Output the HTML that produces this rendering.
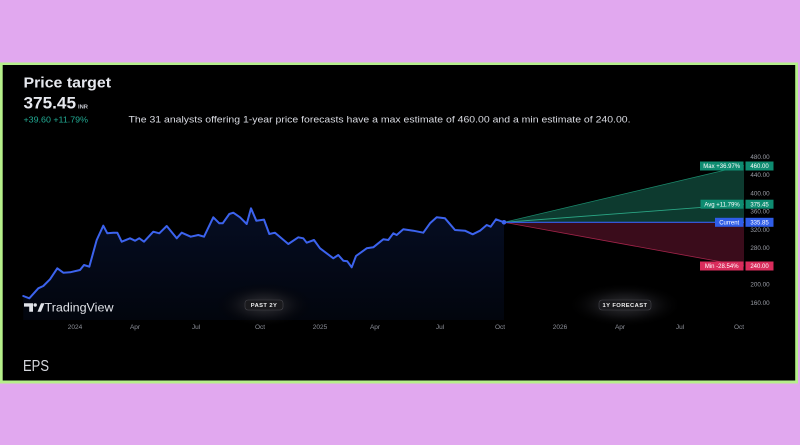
<!DOCTYPE html>
<html><head><meta charset="utf-8"><style>
html,body{margin:0;padding:0;background:#e1a8ef;}
svg{display:block;}
text{font-family:"Liberation Sans",sans-serif;}
</style></head><body>
<svg width="800" height="445" viewBox="0 0 800 445" xmlns="http://www.w3.org/2000/svg">
<defs>
<linearGradient id="area" x1="0" y1="205" x2="0" y2="322" gradientUnits="userSpaceOnUse">
<stop offset="0" stop-color="#2962ff" stop-opacity="0.14"/>
<stop offset="1" stop-color="#2962ff" stop-opacity="0.05"/>
</linearGradient>
<radialGradient id="glow" cx="0.5" cy="0.5" r="0.5">
<stop offset="0" stop-color="#3a3a3e" stop-opacity="0.9"/>
<stop offset="0.5" stop-color="#1e1e22" stop-opacity="0.6"/>
<stop offset="1" stop-color="#000" stop-opacity="0"/>
</radialGradient>
</defs>
<rect x="0" y="0" width="800" height="445" fill="#e1a8ef"/>
<rect x="0" y="62.5" width="798" height="321" fill="#b6ef8b"/>
<rect x="2.7" y="65" width="792.5" height="315.5" fill="#000"/>

<!-- header -->
<text x="23.5" y="87.3" font-size="15" font-weight="bold" fill="#e6e8ee" textLength="87.5" lengthAdjust="spacingAndGlyphs">Price target</text>
<text x="23.5" y="108.3" font-size="16.5" font-weight="bold" fill="#e6e8ee" textLength="52.5" lengthAdjust="spacingAndGlyphs">375.45</text>
<text x="78" y="108.3" font-size="5" font-weight="bold" fill="#c8cad2" textLength="10" lengthAdjust="spacingAndGlyphs">INR</text>
<text x="23.5" y="122.7" font-size="8.4" fill="#22ab94" textLength="64.5" lengthAdjust="spacingAndGlyphs">+39.60 +11.79%</text>
<text x="128.5" y="122.7" font-size="9.4" fill="#dadce3" textLength="502" lengthAdjust="spacingAndGlyphs">The 31 analysts offering 1-year price forecasts have a max estimate of 460.00 and a min estimate of 240.00.</text>

<!-- past area -->
<polygon fill="url(#area)" points="23.3,296 29.3,298.3 38.3,288.3 43.3,286 50,279.3 57.3,268.3 63.3,272.7 70,272.3 80,270 84,265 89.3,266.7 96.7,240 103.3,225.7 107.3,233.3 113.3,232.7 117.3,232.7 121.7,241.7 130,238.3 135,240.7 139.3,238.3 144,241.7 153.3,231.7 159.3,233.3 166.7,226 176.7,238.3 181.7,232.7 190.7,236.7 198.3,235 204,236.7 213.3,217.3 219.3,223.3 222.7,223.3 229.3,214 233.3,212.7 240,217.3 246.7,224 251,208.3 256.3,220.7 264,219.6 269.3,234 275,232.7 288.3,244 298.3,237.3 303.3,238.3 306.7,242.7 314,240 320,248.3 333.3,258.3 338.3,255 343.3,260.7 347.3,261.3 351.7,267.3 356,256 366.7,248.3 373.3,247.3 383.3,239.3 388.3,240 393.3,233.3 396.7,235 403.3,229.3 413.3,230.7 423.3,232.7 430,223.3 436.7,217.3 445,218.3 455,230 465,230.7 472.7,234.3 480,230.7 486.7,225 490.7,226.7 496,219.3 504,222.3 504,320 23.3,320"/>

<!-- fan -->
<polygon points="504,222.3 744,165.6 744,222.3" fill="#0d3a2f"/>
<polygon points="504,222.3 744,222.3 744,266" fill="#3a0c1b"/>
<line x1="504" y1="222.3" x2="744" y2="165.6" stroke="#1a8a6c" stroke-width="0.8"/>
<line x1="504" y1="222.3" x2="744" y2="204.2" stroke="#2aa584" stroke-width="0.9"/>
<line x1="504" y1="222.3" x2="744" y2="266" stroke="#a3244a" stroke-width="0.8"/>
<line x1="504" y1="222.3" x2="744" y2="222.3" stroke="#3461f0" stroke-width="1.2"/>

<!-- line -->
<polyline fill="none" stroke="#3c63ee" stroke-width="2" stroke-linejoin="round" stroke-linecap="round" points="23.3,296 29.3,298.3 38.3,288.3 43.3,286 50,279.3 57.3,268.3 63.3,272.7 70,272.3 80,270 84,265 89.3,266.7 96.7,240 103.3,225.7 107.3,233.3 113.3,232.7 117.3,232.7 121.7,241.7 130,238.3 135,240.7 139.3,238.3 144,241.7 153.3,231.7 159.3,233.3 166.7,226 176.7,238.3 181.7,232.7 190.7,236.7 198.3,235 204,236.7 213.3,217.3 219.3,223.3 222.7,223.3 229.3,214 233.3,212.7 240,217.3 246.7,224 251,208.3 256.3,220.7 264,219.6 269.3,234 275,232.7 288.3,244 298.3,237.3 303.3,238.3 306.7,242.7 314,240 320,248.3 333.3,258.3 338.3,255 343.3,260.7 347.3,261.3 351.7,267.3 356,256 366.7,248.3 373.3,247.3 383.3,239.3 388.3,240 393.3,233.3 396.7,235 403.3,229.3 413.3,230.7 423.3,232.7 430,223.3 436.7,217.3 445,218.3 455,230 465,230.7 472.7,234.3 480,230.7 486.7,225 490.7,226.7 496,219.3 504,222.3"/>
<circle cx="504" cy="222.3" r="2.3" fill="#3c63ee"/>

<!-- y axis labels -->
<g font-size="6.3" fill="#9a9da6" text-anchor="middle">
<text x="760" y="158.8">480.00</text>
<text x="760" y="177">440.00</text>
<text x="760" y="195.3">400.00</text>
<text x="760" y="213.5">360.00</text>
<text x="760" y="231.8">320.00</text>
<text x="760" y="250">280.00</text>
<text x="760" y="286.5">200.00</text>
<text x="760" y="304.8">160.00</text>
</g>

<!-- labels -->
<g font-size="6" fill="#fff" text-anchor="middle">
<rect x="700" y="161.5" width="43.5" height="9" fill="#0e8c71"/>
<rect x="745.5" y="161.5" width="28" height="9" fill="#0e8c71"/>
<text x="721.7" y="168.2">Max +36.97%</text>
<text x="759.5" y="168.2">460.00</text>

<rect x="700.5" y="199.7" width="43" height="9" fill="#0e8c71"/>
<rect x="745.5" y="199.7" width="28" height="9" fill="#0e8c71"/>
<text x="722" y="206.4">Avg +11.79%</text>
<text x="759.5" y="206.4">375.45</text>

<rect x="715" y="217.8" width="28.5" height="9" fill="#2f5de8"/>
<rect x="745.5" y="217.8" width="28" height="9" fill="#2f5de8"/>
<text x="729.2" y="224.5">Current</text>
<text x="759.5" y="224.5">335.85</text>

<rect x="700" y="261.5" width="43.5" height="9" fill="#d92c5c"/>
<rect x="745.5" y="261.5" width="28" height="9" fill="#d92c5c"/>
<text x="721.7" y="268.2">Min -28.54%</text>
<text x="759.5" y="268.2">240.00</text>
</g>

<!-- badges -->
<ellipse cx="264" cy="305" rx="48" ry="22" fill="url(#glow)"/>
<ellipse cx="625" cy="305" rx="58" ry="22" fill="url(#glow)"/>
<rect x="245" y="300" width="38" height="10" rx="3" fill="#1a1a1d" stroke="#45454b" stroke-width="0.6"/>
<text x="264" y="307.2" font-size="5.8" font-weight="bold" fill="#eeeeee" text-anchor="middle" letter-spacing="0.4">PAST 2Y</text>
<rect x="599" y="300" width="52" height="10" rx="3" fill="#1a1a1d" stroke="#45454b" stroke-width="0.6"/>
<text x="625" y="307.2" font-size="5.8" font-weight="bold" fill="#eeeeee" text-anchor="middle" letter-spacing="0.4">1Y FORECAST</text>

<!-- TradingView logo -->
<g fill="#e0e2e8">
<polygon points="24,303.3 33,303.3 33,311.7 29.2,311.7 29.2,306.6 24,306.6"/>
<circle cx="35.2" cy="305" r="1.7"/>
<polygon points="37.5,311.7 41,303.3 44.5,303.3 41,311.7"/>
</g>
<text x="44.5" y="311.7" font-size="12.3" fill="#e0e2e8" textLength="69" lengthAdjust="spacingAndGlyphs">TradingView</text>

<!-- x axis labels -->
<g font-size="6.5" fill="#8d9099" text-anchor="middle">
<text x="75" y="329">2024</text>
<text x="135" y="329">Apr</text>
<text x="196" y="329">Jul</text>
<text x="260" y="329">Oct</text>
<text x="320" y="329">2025</text>
<text x="375" y="329">Apr</text>
<text x="440" y="329">Jul</text>
<text x="500" y="329">Oct</text>
<text x="560" y="329">2026</text>
<text x="620" y="329">Apr</text>
<text x="680" y="329">Jul</text>
<text x="739" y="329">Oct</text>
</g>

<!-- EPS -->
<text x="23" y="371" font-size="16" fill="#d6d8de" textLength="26" lengthAdjust="spacingAndGlyphs">EPS</text>
</svg>
</body></html>
